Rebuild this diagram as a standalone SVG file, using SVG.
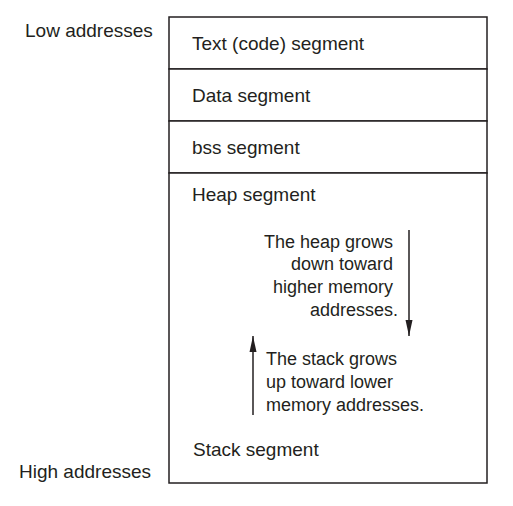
<svg xmlns="http://www.w3.org/2000/svg" width="513" height="506" viewBox="0 0 513 506">
<style>
text{font-family:"Liberation Sans",Arial,sans-serif;fill:#231f20}
.lbl{font-size:19px}
.note{font-size:18px}
.box{fill:#fff;stroke:#231f20;stroke-width:1.5}
.conn{stroke:#231f20;stroke-width:1.5;fill:none}
</style>
<defs>
<marker id="ah2" viewBox="0 0 16 8" refX="16" refY="4" markerWidth="16" markerHeight="8" orient="auto" markerUnits="userSpaceOnUse">
<path d="M0,0.5 L16,4 L0,7.5 Z" fill="#231f20"/>
</marker>
</defs>
<rect width="513" height="506" fill="#fff"/>
<g id="side-labels">
<text class="lbl" x="25" y="37">Low addresses</text>
<text class="lbl" x="19" y="478">High addresses</text>
</g>
<g id="text-segment">
<rect class="box" x="169" y="17" width="318" height="52"/>
<text class="lbl" x="192" y="50">Text (code) segment</text>
</g>
<g id="data-segment">
<rect class="box" x="169" y="69" width="318" height="52"/>
<text class="lbl" x="192" y="102">Data segment</text>
</g>
<g id="bss-segment">
<rect class="box" x="169" y="121" width="318" height="52"/>
<text class="lbl" x="192" y="154">bss segment</text>
</g>
<g id="heap-stack-segment">
<rect class="box" x="169" y="173" width="318" height="310"/>
<text class="lbl" x="192" y="201">Heap segment</text>
<text class="lbl" x="193" y="456">Stack segment</text>
<text class="note" text-anchor="end">
<tspan x="398" y="248">The heap grows</tspan>
<tspan x="398" y="270">down toward</tspan>
<tspan x="398" y="293">higher memory</tspan>
<tspan x="398" y="316">addresses.</tspan>
</text>
<text class="note">
<tspan x="266" y="365">The stack grows</tspan>
<tspan x="266" y="388">up toward lower</tspan>
<tspan x="266" y="411">memory addresses.</tspan>
</text>
</g>
<g id="connectors">
<line class="conn" x1="409" y1="230" x2="409" y2="336" marker-end="url(#ah2)"/>
<line class="conn" x1="253" y1="415" x2="253" y2="336" marker-end="url(#ah2)"/>
</g>
</svg>
